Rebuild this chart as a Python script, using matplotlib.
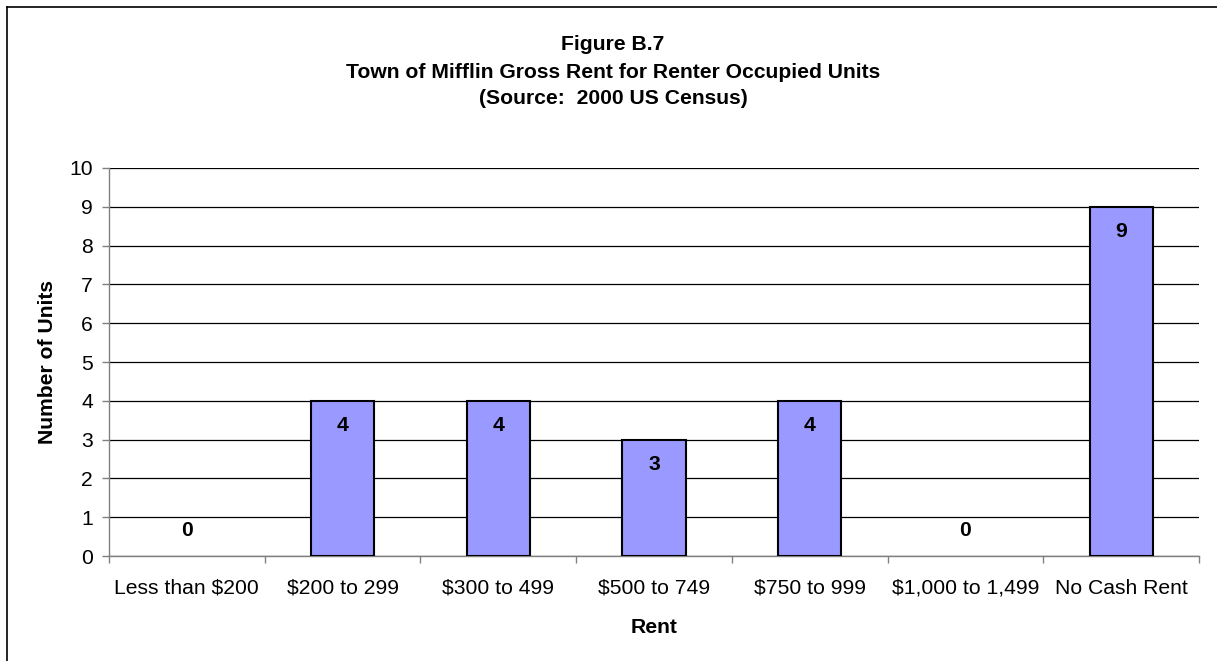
import matplotlib
matplotlib.use("Agg")
import matplotlib.pyplot as plt
from matplotlib.lines import Line2D

# Gross rent categories and renter-occupied unit counts
categories = ["Less than $200", "$200 to 299", "$300 to 499", "$500 to 749",
              "$750 to 999", "$1,000 to 1,499", "No Cash Rent"]
units = [0, 4, 4, 3, 4, 0, 9]
y_ticks = list(range(0, 11))

title_lines = ["Figure B.7",
               "Town of Mifflin Gross Rent for Renter Occupied Units",
               "(Source:  2000 US Census)"]
x_label = "Rent"
y_label = "Number of Units"

plt.rcParams["font.family"] = ["Liberation Sans", "DejaVu Sans"]
FS = 15.2

W, H = 1217, 661
fig = plt.figure(figsize=(W / 100, H / 100), dpi=100)
fig.patch.set_facecolor("white")

# plot area in pixel coordinates
left, right, top, bottom = 109, 1199, 168, 556
ax = fig.add_axes([left / W, 1 - bottom / H, (right - left) / W, (bottom - top) / H])

xpos = list(range(len(categories)))
bars = ax.bar(xpos, units, width=0.405, color="#9999FF", edgecolor="black",
              linewidth=1.5, zorder=3)
# empty categories show no outline on the axis
for patch, v in zip(bars, units):
    if v == 0:
        patch.set_linewidth(0)

ax.set_xlim(-0.5, len(categories) - 0.5)
ax.set_ylim(0, 10)
ax.set_yticks(y_ticks)
ax.yaxis.grid(True, color="black", linewidth=0.9, zorder=0)
ax.set_axisbelow(True)

for s in ("top", "right"):
    ax.spines[s].set_visible(False)
for s in ("left", "bottom"):
    ax.spines[s].set_color("#808080")
    ax.spines[s].set_linewidth(1.0)

# category labels centred, tick marks at category boundaries
ax.set_xticks(xpos)
ax.set_xticklabels(categories, fontsize=FS)
ax.tick_params(axis="x", which="major", length=0, pad=16.5)
ax.set_xticks([i - 0.5 for i in range(len(categories) + 1)], minor=True)
ax.tick_params(axis="x", which="minor", length=5, width=1, color="#808080",
               direction="out")
ax.tick_params(axis="y", length=5, width=1, color="#808080", pad=6.5,
               labelsize=FS)

# value labels
for i, v in enumerate(units):
    off = -18 if v > 0 else 18
    ax.annotate(str(v), xy=(i, v), xytext=(0, off), textcoords="offset points",
                ha="center", va="center", fontsize=FS, fontweight="bold",
                zorder=4)

ax.set_xlabel(x_label, fontsize=FS, fontweight="bold", labelpad=14.5)
ax.set_ylabel(y_label, fontsize=FS, fontweight="bold", labelpad=9)

# title block (baselines in pixels from the top)
for line, base_px in zip(title_lines, [50.5, 77.5, 104.5]):
    fig.text(613 / W, 1 - base_px / H, line, ha="center", va="baseline",
             fontsize=FS, fontweight="bold")

# chart frame (top and left edges)
fig.add_artist(Line2D([6.5 / W, 1], [1 - 7 / H, 1 - 7 / H], color="black",
                      linewidth=1.2, transform=fig.transFigure))
fig.add_artist(Line2D([6.5 / W, 6.5 / W], [0, 1 - 7 / H], color="black",
                      linewidth=1.2, transform=fig.transFigure))

fig.savefig("out.png", dpi=100, facecolor="white")
